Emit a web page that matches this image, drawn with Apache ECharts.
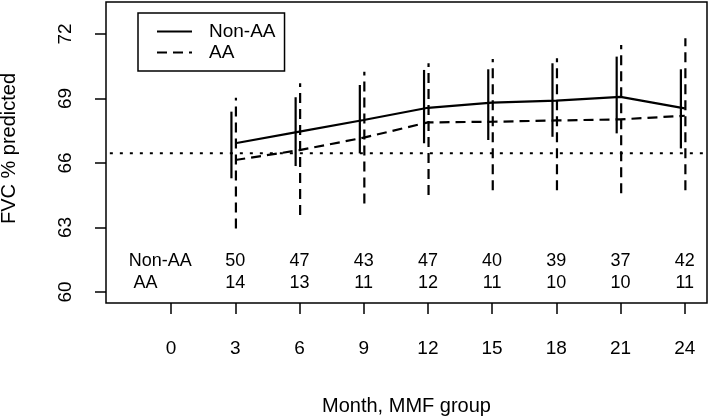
<!DOCTYPE html>
<html>
<head>
<meta charset="utf-8">
<script src="https://cdn.jsdelivr.net/npm/echarts@6/dist/echarts.min.js"></script>
<style>
html,body{margin:0;padding:0;background:#fff;}
#chart{width:709px;height:418px;}
</style>
</head>
<body>
<div id="chart"></div>
<script>
// ---- data ----
const months = [3, 6, 9, 12, 15, 18, 21, 24];
const nonAAMean  = [66.92, 67.46, 68.00, 68.57, 68.81, 68.90, 69.08, 68.54];
const nonAALower = [65.29, 65.86, 66.45, 66.92, 67.07, 67.22, 67.38, 66.68];
const nonAAUpper = [68.39, 69.06, 69.63, 70.33, 70.36, 70.64, 70.95, 70.36];
const aaMean  = [66.14, 66.60, 67.18, 67.89, 67.92, 67.98, 68.03, 68.20];
const aaLower = [62.96, 63.58, 64.12, 64.51, 64.74, 64.74, 64.59, 64.74];
const aaUpper = [69.04, 69.71, 70.25, 70.64, 70.84, 70.87, 71.49, 71.80];
const nonAACount = [50, 47, 43, 47, 40, 39, 37, 42];
const aaCount    = [14, 13, 11, 12, 11, 10, 10, 11];
const xTicks = [0, 3, 6, 9, 12, 15, 18, 21, 24];
const yTicks = [60, 63, 66, 69, 72];
const refLevel = 66.45;
const rowLabels = ['Non-AA', 'AA'];
const seriesNames = ['Non-AA', 'AA'];

// ---- styles ----
const FONT = "'Liberation Sans', Arial, Helvetica, sans-serif";
const BLACK = '#000';
const DASH = [10, 6];

function errorBars(lower, upper, offset, dash) {
  return {
    type: 'custom',
    silent: true,
    z: 3,
    encode: { x: 0, y: [1, 2] },
    data: months.map((m, i) => [m, lower[i], upper[i]]),
    renderItem: function (params, api) {
      const p1 = api.coord([api.value(0) + offset, api.value(1)]);
      const p2 = api.coord([api.value(0) + offset, api.value(2)]);
      return {
        type: 'line',
        shape: { x1: p1[0], y1: p1[1], x2: p2[0], y2: p2[1] },
        style: { stroke: BLACK, lineWidth: 2.2, lineDash: dash }
      };
    }
  };
}

function countRow(counts, rowY) {
  return {
    type: 'custom',
    silent: true,
    z: 4,
    encode: { x: 0 },
    data: months.map((m, i) => [m, counts[i]]),
    renderItem: function (params, api) {
      const p = api.coord([api.value(0), rowY]);
      return {
        type: 'text',
        x: p[0], y: p[1],
        style: {
          text: String(api.value(1)),
          fontSize: 18, fontFamily: FONT, fill: BLACK,
          align: 'center', verticalAlign: 'middle'
        }
      };
    }
  };
}

const chart = echarts.init(document.getElementById('chart'), null, { renderer: 'canvas' });

const option = {
  animation: false,
  backgroundColor: '#fff',
  grid: {
    left: 106, right: 2, top: 2, bottom: 115,
    containLabel: false,
    outerBoundsMode: 'none',
    show: true, borderColor: BLACK, borderWidth: 1.5,
    backgroundColor: 'transparent'
  },
  legend: {
    data: seriesNames,
    orient: 'vertical',
    left: 138, top: 13,
    borderColor: BLACK, borderWidth: 1.5,
    padding: [8, 9, 8, 18],
    itemWidth: 35, itemHeight: 21, itemGap: 0,
    selectedMode: false,
    itemStyle: { color: 'transparent', borderColor: 'transparent', borderWidth: 0 },
    textStyle: {
      fontSize: 19, fontFamily: FONT, color: BLACK,
      lineHeight: 14, padding: [7, 0, 0, 12]
    }
  },
  xAxis: {
    type: 'value',
    min: -3.04, max: 25.04,
    axisLine: { show: false, onZero: false },
    splitLine: { show: false },
    axisTick: {
      show: true, inside: false, length: 11,
      customValues: xTicks,
      lineStyle: { color: BLACK, width: 1.5 }
    },
    axisLabel: {
      customValues: xTicks,
      margin: 36,
      fontSize: 19, fontFamily: FONT, color: BLACK
    },
    name: 'Month, MMF group',
    nameLocation: 'middle',
    nameGap: 93,
    nameTextStyle: { fontSize: 20, fontFamily: FONT, color: BLACK }
  },
  yAxis: {
    type: 'value',
    min: 59.49, max: 73.49,
    axisLine: { show: false, onZero: false },
    splitLine: { show: false },
    axisTick: {
      show: true, inside: false, length: 11,
      customValues: yTicks,
      lineStyle: { color: BLACK, width: 1.5 }
    },
    axisLabel: {
      customValues: yTicks,
      rotate: 90,
      margin: 31,
      fontSize: 19, fontFamily: FONT, color: BLACK
    },
    name: 'FVC % predicted',
    nameLocation: 'middle',
    nameGap: 87,
    nameTextStyle: { fontSize: 20, fontFamily: FONT, color: BLACK, padding: [0, 0, 0, 8] }
  },
  series: [
    {
      name: 'Non-AA',
      type: 'line',
      z: 5,
      symbol: 'none',
      data: months.map((m, i) => [m, nonAAMean[i]]),
      lineStyle: { color: BLACK, width: 2.2, type: 'solid' },
      itemStyle: { color: BLACK }
    },
    {
      name: 'AA',
      type: 'line',
      z: 5,
      symbol: 'none',
      data: months.map((m, i) => [m, aaMean[i]]),
      lineStyle: { color: BLACK, width: 2.2, type: DASH },
      itemStyle: { color: BLACK }
    },
    errorBars(nonAALower, nonAAUpper, -0.18, null),
    errorBars(aaLower, aaUpper, 0.03, DASH),
    {
      name: 'ref',
      type: 'line',
      z: 2,
      symbol: 'none',
      clip: false,
      silent: true,
      data: [[-8, refLevel], [25.04, refLevel]],
      lineStyle: { color: BLACK, width: 2, type: [3, 7] }
    },
    countRow(nonAACount, 61.45),
    countRow(aaCount, 60.44),
    {
      type: 'custom',
      silent: true,
      z: 4,
      encode: { x: 0, y: 1 },
      data: [[-1.98, 61.45], [-1.75, 60.44]],
      renderItem: function (params, api) {
        const p = api.coord([api.value(0), api.value(1)]);
        return {
          type: 'text',
          x: p[0], y: p[1],
          style: {
            text: rowLabels[params.dataIndex],
            fontSize: 18, fontFamily: FONT, fill: BLACK,
            align: 'left', verticalAlign: 'middle'
          }
        };
      }
    }
  ]
};

chart.setOption(option);
</script>
</body>
</html>
